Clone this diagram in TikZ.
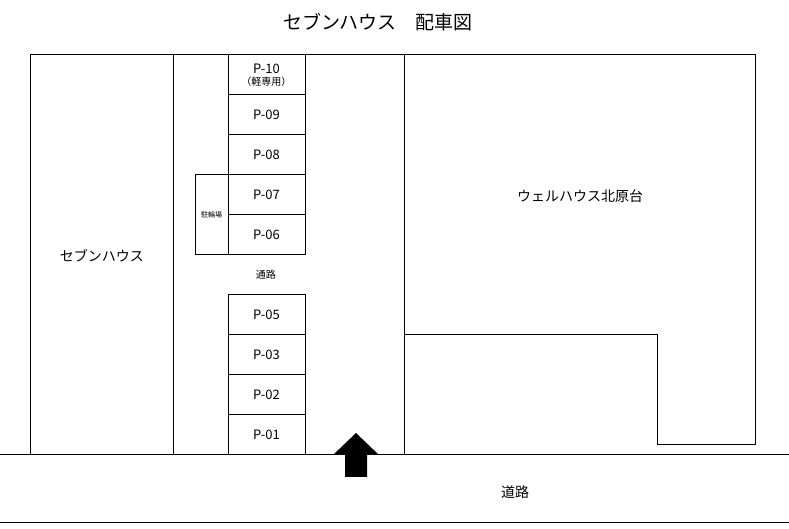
\documentclass[tikz,border=0pt]{standalone}
\usepackage{fontspec}
\setmainfont{Noto Sans CJK JP}
\usetikzlibrary{positioning}
\tikzset{
	slotstyle/.style={rectangle,draw=black,minimum width=38.5pt,minimum height=20pt,inner sep=0pt,outer sep=0pt,font=\fontsize{6.5}{7}\selectfont},
	labelstyle/.style={font=\fontsize{7}{8}\selectfont},
	smallstyle/.style={font=\fontsize{3.5}{4}\selectfont}
}
\begin{document}
\begin{tikzpicture}[x=0.5pt,y=-0.5pt,line width=0.5pt]
	\useasboundingbox (0,0) rectangle (789,529);
	\node[font=\fontsize{9.5}{10}\selectfont] (title) at (378,22) {セブンハウス　配車図};
	% buildings
	\draw (30,55) rectangle (173,455);
	\node[labelstyle] (seven) at (102,256) {セブンハウス};
	\draw (173,55) -- (404,55);
	\draw (404,455) -- (404,55) -- (755,55) -- (755,445) -- (657,445) -- (657,335) -- (404,335);
	\node[labelstyle] (well) at (580,196) {ウェルハウス北原台};
	% parking
	\node[slotstyle,align=center] (p10) at (266.5,75) {P-10\\[-1pt]{\fontsize{5}{5}\selectfont（軽専用）}};
	\node[slotstyle,below=0pt of p10] (p09) {P-09};
	\node[slotstyle,below=0pt of p09] (p08) {P-08};
	\node[slotstyle,below=0pt of p08] (p07) {P-07};
	\node[slotstyle,below=0pt of p07] (p06) {P-06};
	\node[slotstyle] (p05) at (266.5,315) {P-05};
	\node[slotstyle,below=0pt of p05] (p03) {P-03};
	\node[slotstyle,below=0pt of p03] (p02) {P-02};
	\node[slotstyle,below=0pt of p02] (p01) {P-01};
	\node[rectangle,draw=black,minimum width=16.5pt,minimum height=40pt,inner sep=0pt,outer sep=0pt,smallstyle,anchor=east] (bike) at (p07.south west) {駐輪場};
	\node[font=\fontsize{5}{6}\selectfont] (aisle) at (266,275) {通路};
	% road
	\draw (0,455) -- (789,455);
	\draw (0,523) -- (789,523);
	\node[labelstyle] (road) at (515,492) {道路};
	\fill (345,477) -- (345,455) -- (333,455) -- (356,433) -- (379,455) -- (367,455) -- (367,477) -- cycle;
\end{tikzpicture}
\end{document}
